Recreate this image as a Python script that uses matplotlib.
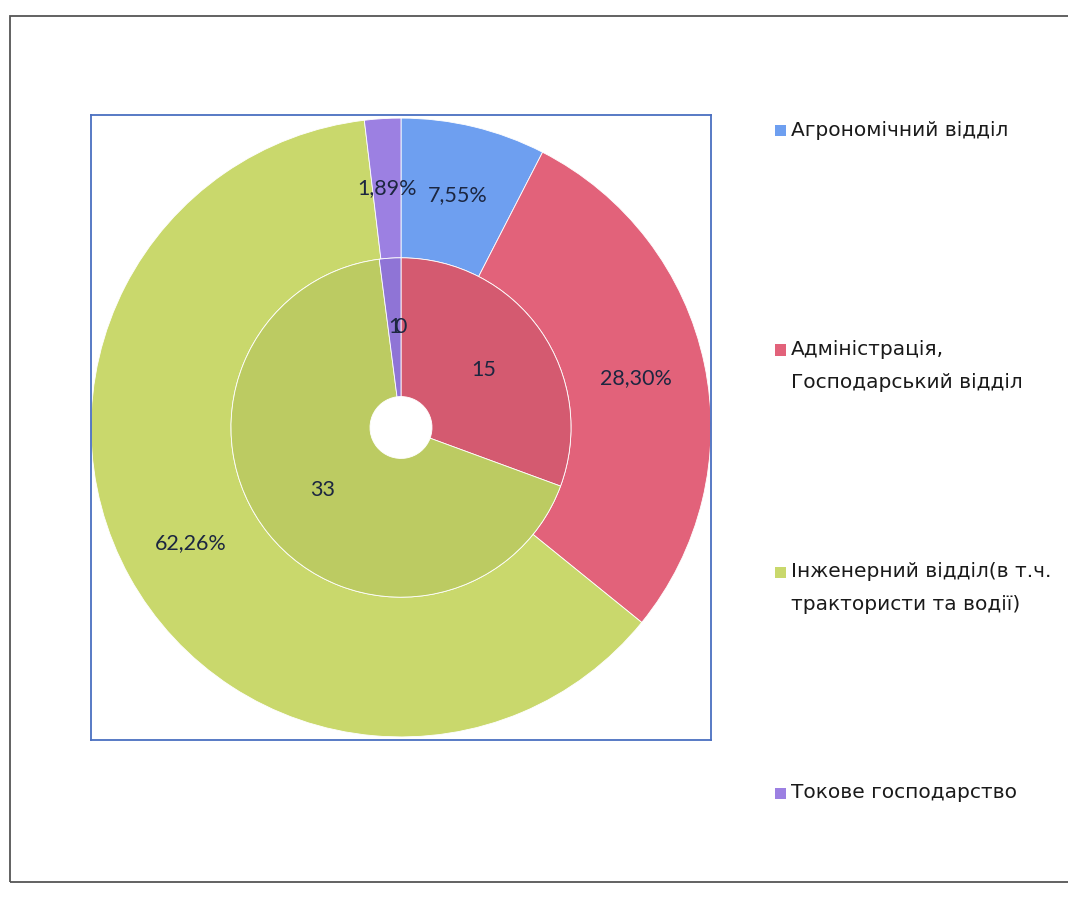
import matplotlib
matplotlib.use('Agg')
import matplotlib.pyplot as plt
from matplotlib.patches import Rectangle

# data
categories = ['Агрономічний відділ',
              'Адміністрація,\nГосподарський відділ',
              'Інженерний відділ(в т.ч.\nтрактористи та водії)',
              'Токове господарство']
outer_vals = [4, 15, 33, 1]     # shown as percent
inner_vals = [0, 15, 33, 1]     # shown as counts
outer_colors = ['#6e9ff0', '#e2627a', '#c9d86c', '#9c80e2']
inner_colors = ['#6591e0', '#d45a70', '#bccb62', '#8f74d6']

W, H = 1068, 914
fig = plt.figure(figsize=(W / 100, H / 100), dpi=100)
fig.patch.set_facecolor('white')

# outer grey frame (chart area)
fig.patches.append(Rectangle((10 / W, (H - 882) / H), 1.2, (882 - 16) / H,
                             transform=fig.transFigure, fill=False,
                             edgecolor='#555555', linewidth=1.3))

# plot area box
ax = fig.add_axes([91 / W, (H - 740) / H, 620 / W, 625 / H])
lab_font = ['Lato', 'DejaVu Sans']
txt_col = '#1c2640'

def pct_fmt(p):
    return ('%.2f%%' % p).replace('.', ',')

tot_in = sum(inner_vals)
def cnt_fmt(p):
    return '%d' % round(p * tot_in / 100)

R = 1.0
r_mid = 170 / 310
r_hole = 31 / 310

w1, t1, a1 = ax.pie(outer_vals, radius=R, colors=outer_colors, startangle=90,
                    counterclock=False, autopct=pct_fmt,
                    pctdistance=(1 + r_mid) / 2 / R,
                    wedgeprops=dict(width=R - r_mid, edgecolor='white', linewidth=0.6),
                    textprops=dict(fontsize=15.5, color=txt_col, family=lab_font))
w2, t2, a2 = ax.pie(inner_vals, radius=r_mid, colors=inner_colors, startangle=90,
                    counterclock=False, autopct=cnt_fmt,
                    pctdistance=(r_mid + r_hole) / 2 / r_mid,
                    wedgeprops=dict(width=r_mid - r_hole, edgecolor='white', linewidth=0.6),
                    textprops=dict(fontsize=15.5, color=txt_col, family=lab_font))

ax.set_xlim(-1.0, 1.0)
ax.set_ylim(-1.01, 1.01)
ax.set_aspect('auto')
ax.set_frame_on(True)
for s in ax.spines.values():
    s.set_visible(True)
    s.set_edgecolor('#4a6fc0')
    s.set_linewidth(1.3)
ax.set_xticks([])
ax.set_yticks([])

# legend, entries spread down the right side
leg_y = [130, 366, 588, 793]
line_h = 33
for name, col, y in zip(categories, outer_colors, leg_y):
    lines = name.split('\n')
    first = y - (len(lines) - 1) * line_h / 2
    fig.patches.append(Rectangle((775 / W, (H - first - 6) / H), 11 / W, 11 / H,
                                 transform=fig.transFigure, facecolor=col,
                                 edgecolor='none'))
    for i, ln in enumerate(lines):
        fig.text(791 / W, (H - first - i * line_h) / H, ln, fontsize=14.5,
                 color='#1a1a1a', family=['DejaVu Sans'], va='center',
                 ha='left', transform=fig.transFigure)

fig.savefig('out.png', dpi=100)
